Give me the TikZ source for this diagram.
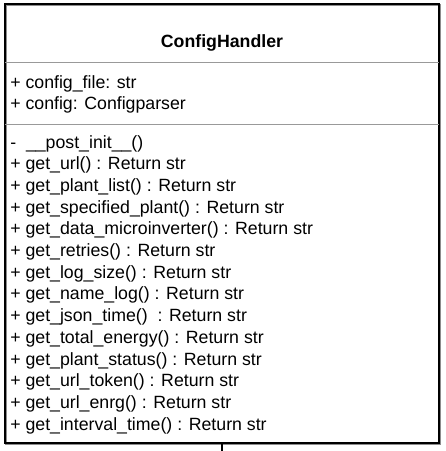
\documentclass[tikz,border=0pt]{standalone}
\usepackage{fontspec}
\setmainfont{Liberation Sans}
\begin{document}
\begin{tikzpicture}[x=0.75pt,y=-0.75pt,
  txt/.style={anchor=base west,inner sep=0pt,font=\fontsize{13.3pt}{16pt}\selectfont},
  titletxt/.style={anchor=base,inner sep=0pt,font=\fontsize{13.3pt}{16pt}\selectfont\bfseries},
  sep/.style={draw=black!40,line width=0.75pt},
  border/.style={draw=black,line width=1.5pt},
  shadow/.style={draw=black!45,line width=1.5pt}]
\useasboundingbox (0,0) rectangle (446,451);
% box
\draw[shadow] (6,5) rectangle (440,444);
\draw[border] (5,4) rectangle (439,443);
\draw[sep] (5,62) -- (439,62);
\draw[sep] (5,124) -- (439,124);
% title
\node[titletxt] (title) at (222,47) {ConfigHandler};
% attributes
\node[txt] (a1) at (10,88) {+ config\_file: str};
\node[txt] (a2) at (10,109) {+ config: Configparser};
% methods
\foreach \t [count=\i from 0] in {
  {-\ \ \_\_post\_init\_\_()},
  {+ get\_url() : Return str},
  {+ get\_plant\_list() : Return str},
  {+ get\_specified\_plant() : Return str},
  {+ get\_data\_microinverter() : Return str},
  {+ get\_retries() : Return str},
  {+ get\_log\_size() : Return str},
  {+ get\_name\_log() : Return str},
  {+ get\_json\_time()\ \ : Return str},
  {+ get\_total\_energy() : Return str},
  {+ get\_plant\_status() : Return str},
  {+ get\_url\_token() : Return str},
  {+ get\_url\_enrg() : Return str},
  {+ get\_interval\_time() : Return str}}
  \node[txt] (m\i) at (10,148+21.7*\i) {\t};
% stub connector
\coordinate (stubtop) at (222,443);
\coordinate (stubend) at (222,451);
\draw[line width=1.2pt] (stubtop) -- (stubend);
\end{tikzpicture}
\end{document}
